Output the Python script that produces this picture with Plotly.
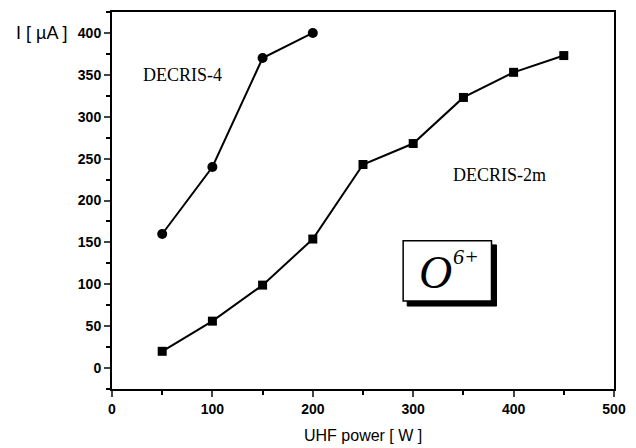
import plotly.graph_objects as go

power_4 = [50, 100, 150, 200]
current_4 = [160, 240, 370, 400]
power_2m = [50, 100, 150, 200, 250, 300, 350, 400, 450]
current_2m = [20, 56, 99, 154, 243, 268, 323, 353, 373]

x_ticks = [0, 100, 200, 300, 400, 500]
y_ticks = [0, 50, 100, 150, 200, 250, 300, 350, 400]

fig = go.Figure()
fig.add_trace(go.Scatter(x=power_4, y=current_4, mode="lines+markers",
                         line=dict(color="black", width=2),
                         marker=dict(symbol="circle", size=10, color="black"),
                         name="DECRIS-4"))
fig.add_trace(go.Scatter(x=power_2m, y=current_2m, mode="lines+markers",
                         line=dict(color="black", width=2),
                         marker=dict(symbol="square", size=9, color="black"),
                         name="DECRIS-2m"))

tickfont = dict(family="Liberation Sans, Arial", size=14, color="black", weight="bold")
fig.update_xaxes(range=[0, 500], tickvals=x_ticks, ticks="outside", ticklen=6, tickwidth=2,
                 showline=True, linecolor="black", linewidth=2, mirror=True,
                 showgrid=False, zeroline=False, tickfont=tickfont,
                 minor=dict(dtick=50, ticks="outside", ticklen=4, tickwidth=1.5, tickcolor="black"))
fig.update_yaxes(range=[-25, 425], tickvals=y_ticks, ticks="outside", ticklen=6, tickwidth=2,
                 showline=True, linecolor="black", linewidth=2, mirror=True,
                 showgrid=False, zeroline=False, tickfont=tickfont,
                 minor=dict(dtick=25, ticks="outside", ticklen=4, tickwidth=1.5, tickcolor="black"))

fig.add_annotation(x=0, y=400, xref="paper", yref="y", xanchor="right", yanchor="middle",
                   xshift=-43, text="I [ µA ]", showarrow=False,
                   font=dict(family="Liberation Sans, Arial", size=18, color="black"))
fig.add_annotation(x=0.5, y=0, xref="paper", yref="paper", xanchor="center", yanchor="top",
                   yshift=-36, text="UHF power [ W ]", showarrow=False,
                   font=dict(family="Liberation Sans, Arial", size=16, color="black"))
fig.add_annotation(x=70, y=350, text="DECRIS-4", showarrow=False, xanchor="center",
                   font=dict(family="Liberation Serif, Times New Roman", size=18, color="black"))
fig.add_annotation(x=386, y=231, text="DECRIS-2m", showarrow=False, xanchor="center",
                   font=dict(family="Liberation Serif, Times New Roman", size=18, color="black"))

# O6+ box with shadow
fig.add_shape(type="rect", x0=294, x1=383, y0=74, y1=147, xref="x", yref="y",
              fillcolor="black", line=dict(color="black", width=1), layer="above")
fig.add_shape(type="rect", x0=290, x1=378, y0=80, y1=152, xref="x", yref="y",
              fillcolor="white", line=dict(color="black", width=1.5), layer="above")
fig.add_annotation(x=322, y=114, text="<i>O</i>", showarrow=False,
                   font=dict(family="Liberation Serif, Times New Roman", size=46, color="black"))
fig.add_annotation(x=353, y=133, text="<i>6+</i>", showarrow=False,
                   font=dict(family="Liberation Serif, Times New Roman", size=22, color="black"))

fig.update_layout(width=636, height=448, margin=dict(l=112, r=15, t=10, b=59),
                  plot_bgcolor="white", paper_bgcolor="white", showlegend=False)
fig.write_html("out.html")
